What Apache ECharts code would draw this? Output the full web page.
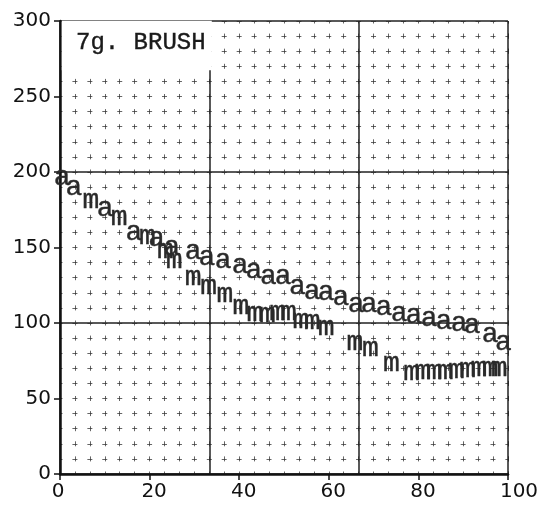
<!DOCTYPE html>
<html>
<head>
<meta charset="utf-8">
<script src="https://cdn.jsdelivr.net/npm/echarts@6/dist/echarts.min.js"></script>
<style>
  html, body { margin: 0; padding: 0; background: #fff; }
  #chart { width: 544px; height: 510px; }
</style>
</head>
<body>
<div id="chart"></div>
<script>
// ---- data ----
const titleText = '7g. BRUSH';
const xTicks = [0, 20, 40, 60, 80, 100];
const yTicks = [0, 50, 100, 150, 200, 250, 300];

// series "a"
const aX = [0.5, 3.1, 10.1, 16.5, 21.6, 25.0, 29.7, 32.8, 36.4, 40.2, 43.3, 46.5, 49.8, 53.0, 56.3, 59.4, 62.7, 66.1, 69.0, 72.3, 75.7, 79.0, 82.4, 85.7, 89.1, 92.0, 96.0, 99.0];
const aY = [196, 190, 175.5, 160, 156, 150, 147, 143, 141.5, 138, 134.5, 130.5, 131, 124, 121, 120, 117, 112, 112, 110, 106.5, 104.6, 103, 100.7, 99.3, 98, 92.5, 87];

// series "m"
const mX = [6.9, 13.2, 19.5, 23.5, 25.5, 29.7, 33.2, 36.8, 40.4, 43.5, 46.3, 48.6, 51.0, 53.8, 56.3, 59.4, 65.8, 69.3, 74.0, 78.5, 81.0, 83.5, 86.0, 88.5, 91.0, 93.5, 96.0, 98.0];
const mY = [181, 169.5, 157, 148, 141, 130, 124, 119, 111, 106, 105.5, 107, 107, 101.5, 101, 97, 87, 83, 73, 67, 67.5, 68, 68, 68.5, 69, 69.5, 70, 70];

const chart = echarts.init(document.getElementById('chart'), null, { renderer: 'canvas' });

const letterLabel = (ch) => ({
  show: true,
  position: 'inside',
  formatter: ch,
  fontFamily: 'Liberation Mono',
  fontSize: 28,
  fontWeight: 'normal',
  color: '#2a2a2a',
  textBorderColor: '#2a2a2a',
  textBorderWidth: 0.4,
  opacity: 1
});

const hiddenAxisBase = {
  axisLine: { show: false },
  axisTick: { show: false },
  axisLabel: { show: false }
};

const labelFont = { fontFamily: 'DejaVu Sans', fontSize: 20, color: '#111' };

const option = {
  backgroundColor: '#ffffff',
  animation: false,
  title: {
    text: titleText,
    left: 62,
    top: 21,
    padding: [10, 6, 15, 14],
    backgroundColor: '#ffffff',
    textStyle: {
      fontFamily: 'Liberation Mono',
      fontSize: 24,
      fontWeight: 'normal',
      color: '#1a1a1a',
      textBorderColor: '#1a1a1a',
      textBorderWidth: 0.4
    }
  },
  grid: { left: 60, right: 36, top: 21, bottom: 36, containLabel: false },
  xAxis: [
    {
      type: 'value', min: 0, max: 100, interval: 20,
      axisLine: { show: true, lineStyle: { color: '#111', width: 2.5 } },
      axisTick: { show: true, inside: false, length: 6, lineStyle: { color: '#111', width: 1.5 }, customValues: xTicks },
      axisLabel: Object.assign({
        show: true, margin: 8, customValues: xTicks,
        formatter: (v) => v === 100 ? '{l|' + v + '}' : (v === 0 ? '{z|' + v + '}' : '{n|' + v + '}'),
        rich: {
          n: Object.assign({ padding: [0, 0, 0, 9] }, labelFont),
          l: Object.assign({ padding: [0, 0, 0, 22] }, labelFont),
          z: Object.assign({ padding: [0, 4, 0, 0] }, labelFont)
        }
      }, labelFont),
      splitLine: { show: false }
    },
    Object.assign({
      type: 'value', min: 0, max: 100, interval: 100 / 30,
      splitLine: { show: true, lineStyle: { color: '#333', width: 1, type: [5, 10.1], dashOffset: 2.5, opacity: 0.75 } }
    }, hiddenAxisBase),
    Object.assign({
      type: 'value', min: 0, max: 100, interval: 100 / 3,
      splitLine: { show: true, lineStyle: { color: '#222', width: 1.5, type: 'solid' } }
    }, hiddenAxisBase)
  ],
  yAxis: [
    {
      type: 'value', min: 0, max: 300, interval: 50,
      axisLine: { show: true, lineStyle: { color: '#111', width: 2.5 } },
      axisTick: { show: true, inside: false, length: 6, lineStyle: { color: '#111', width: 1.5 }, customValues: yTicks },
      axisLabel: Object.assign({ show: true, margin: 9, customValues: yTicks }, labelFont),
      splitLine: { show: false }
    },
    Object.assign({
      type: 'value', min: 0, max: 300, interval: 10,
      splitLine: { show: true, lineStyle: { color: '#333', width: 1, type: [5, 9.93], dashOffset: 2.5, opacity: 0.75 } }
    }, hiddenAxisBase),
    Object.assign({
      type: 'value', min: 0, max: 300, interval: 100,
      splitLine: { show: true, lineStyle: { color: '#222', width: 1.5, type: 'solid' } }
    }, hiddenAxisBase)
  ],
  series: [
    {
      name: 'a', type: 'scatter', xAxisIndex: 0, yAxisIndex: 0,
      symbol: 'circle', symbolSize: 1,
      itemStyle: { color: 'rgba(0,0,0,0)' },
      label: letterLabel('a'),
      data: aX.map((x, i) => [x, aY[i]]),
      z: 5
    },
    {
      name: 'm', type: 'scatter', xAxisIndex: 0, yAxisIndex: 0,
      symbol: 'circle', symbolSize: 1,
      itemStyle: { color: 'rgba(0,0,0,0)' },
      label: letterLabel('m'),
      data: mX.map((x, i) => [x, mY[i]]),
      z: 5
    }
  ]
};

chart.setOption(option);
</script>
</body>
</html>
